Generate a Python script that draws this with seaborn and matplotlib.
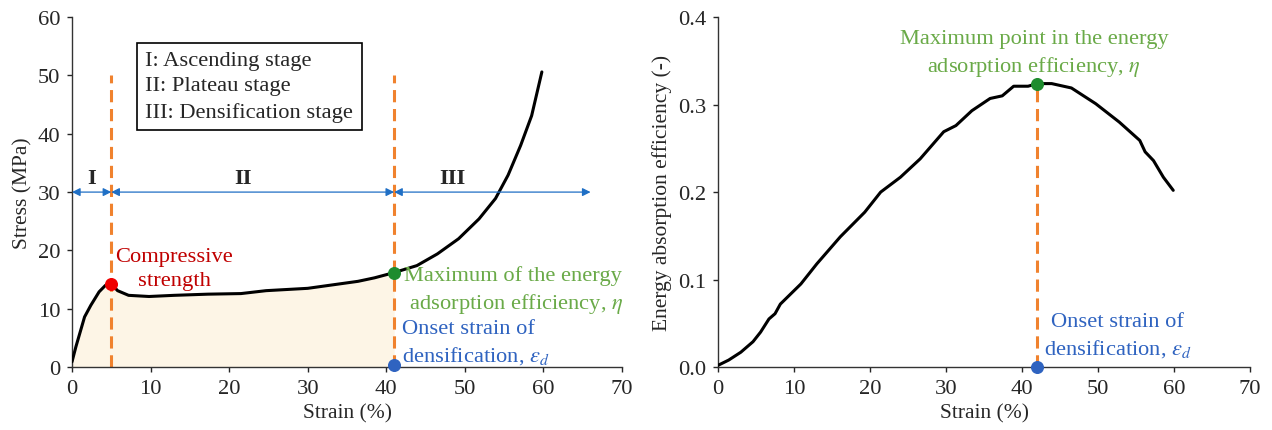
import numpy as np
import pandas as pd
import matplotlib
matplotlib.use("Agg")
import matplotlib.pyplot as plt
import seaborn as sns

# ---- data ----
stress_strain = [0, 0.5, 1.6, 2.4, 3.45, 4.25, 5.0, 5.8, 7.2, 9.8, 13.0, 17.3, 21.5, 24.7,
                 30.0, 33.2, 36.4, 38.5, 41.0, 43.9, 46.5, 49.2, 51.8, 53.9, 55.5, 57.1,
                 58.5, 59.8]
stress_vals = [0.9, 3.5, 8.6, 10.6, 12.9, 14.0, 14.3, 13.1, 12.3, 12.1, 12.3, 12.5, 12.6, 13.1,
               13.5, 14.1, 14.7, 15.3, 16.2, 17.4, 19.4, 22.0, 25.4, 28.9, 32.9, 38.0,
               43.1, 50.6]

eff_strain = [0, 1.4, 3.0, 4.6, 5.6, 6.7, 7.5, 8.2, 10.9, 13.0, 16.1, 19.3, 21.4, 24.0, 26.6,
              29.7, 31.3, 33.4, 35.8, 37.4, 38.9, 40.8, 42.0, 43.9, 46.5, 49.7, 52.8, 55.5,
              56.2, 57.3, 58.6, 59.9]
eff_vals = [0.002, 0.008, 0.017, 0.029, 0.040, 0.055, 0.061, 0.072, 0.095, 0.118, 0.149,
            0.177, 0.200, 0.217, 0.238, 0.269, 0.276, 0.293, 0.307, 0.310, 0.321, 0.321,
            0.324, 0.324, 0.319, 0.301, 0.280, 0.259, 0.246, 0.236, 0.217, 0.202]

compressive_pt = (5.0, 14.3)
max_eff_pt_left = (41.0, 16.2)
onset_left = 41.0
onset_right = 42.0
max_eff_right = 0.324
stage_bounds = [0, 5, 41, 66]
stage_labels = ["I", "II", "III"]
stage_label_x = [2.5, 21.8, 48.4]
legend_lines = ["I: Ascending stage", "II: Plateau stage", "III: Densification stage"]

sns.set_style("ticks")
plt.rcParams['font.family'] = ['Liberation Serif', 'DejaVu Serif']
plt.rcParams['mathtext.fontset'] = 'stix'
plt.rcParams['axes.linewidth'] = 1.0

ORANGE = "#F0822E"
BLUE = "#2F63C0"
GREEN_TXT = "#6AAA48"
GREEN_M = "#1E8C2E"
RED_TXT = "#C00000"
RED_M = "#F00000"
FS = 16.2
LFS = 15.5
LS = 1.36
DASH = (0, (4, 2.2))

fig = plt.figure(figsize=(12.72, 4.31), dpi=100)
ax1 = fig.add_axes([0.0566, 0.146, 0.4324, 0.812])
ax2 = fig.add_axes([0.5645, 0.146, 0.4182, 0.812])

df1 = pd.DataFrame({"strain": stress_strain, "stress": stress_vals})
df2 = pd.DataFrame({"strain": eff_strain, "eff": eff_vals})

# ---- left panel ----
sub = df1[df1.strain <= onset_left]
ax1.fill_between(sub.strain, 0, sub.stress, color="#FDF5E6", zorder=1, lw=0)
sns.lineplot(data=df1, x="strain", y="stress", ax=ax1, color="black", lw=2.2, zorder=3)
for xv in [stage_bounds[1], onset_left]:
    ax1.plot([xv, xv], [0, 50], ls=DASH, color=ORANGE, lw=2.2, zorder=2)
ax1.scatter(*compressive_pt, s=70, color=RED_M, zorder=5)
ax1.scatter(*max_eff_pt_left, s=70, color=GREEN_M, zorder=5)
ax1.scatter(onset_left, 0.3, s=70, color=BLUE, zorder=5, clip_on=False)

for i in range(3):
    ax1.annotate("", xy=(stage_bounds[i + 1], 30), xytext=(stage_bounds[i], 30),
                 arrowprops=dict(arrowstyle="<|-|>", color="#1F6FC5", lw=0.9,
                                 shrinkA=0, shrinkB=0, mutation_scale=12), zorder=4)
    ax1.text(stage_label_x[i], 32.4, stage_labels[i], ha="center", va="center",
             fontsize=FS, fontweight="bold")

ax1.text(9.35, 48.1, "\n".join(legend_lines), fontsize=FS, va="center", ha="left",
         linespacing=1.42,
         bbox=dict(boxstyle="square,pad=0.38", fc="white", ec="black", lw=1.2))

ax1.text(13.0, 16.9, "Compressive\nstrength", color=RED_TXT, fontsize=FS, ha="center",
         va="center", linespacing=LS)
ax1.text(42.3, 13.15, "Maximum of the energy\n adsorption efficiency, $\\eta$", color=GREEN_TXT,
         fontsize=FS, ha="left", va="center", linespacing=LS)
ax1.text(42.0, 4.2, "Onset strain of\ndensification, $\\varepsilon_d$", color=BLUE,
         fontsize=FS, ha="left", va="center", linespacing=LS)

ax1.set_xlim(0, 70)
ax1.set_ylim(0, 60)
ax1.set_xticks(range(0, 71, 10))
ax1.set_yticks(range(0, 61, 10))
ax1.set_xlabel("Strain (%)", fontsize=LFS, labelpad=4)
ax1.set_ylabel("Stress (MPa)", fontsize=LFS, labelpad=4)

# ---- right panel ----
sns.lineplot(data=df2, x="strain", y="eff", ax=ax2, color="black", lw=2.2, zorder=3)
ax2.plot([onset_right, onset_right], [0, max_eff_right], ls=DASH, color=ORANGE,
         lw=2.2, zorder=2)
ax2.scatter(onset_right, max_eff_right, s=70, color=GREEN_M, zorder=5)
ax2.scatter(onset_right, 0.0, s=70, color=BLUE, zorder=5, clip_on=False)
ax2.text(41.6, 0.358, "Maximum point in the energy\nadsorption efficiency, $\\eta$",
         color=GREEN_TXT, fontsize=FS, ha="center", va="center", linespacing=LS)
ax2.text(52.6, 0.036, "Onset strain of\ndensification, $\\varepsilon_d$", color=BLUE,
         fontsize=FS, ha="center", va="center", linespacing=LS)
ax2.set_xlim(0, 70)
ax2.set_ylim(0, 0.4)
ax2.set_xticks(range(0, 71, 10))
ax2.set_yticks([0.0, 0.1, 0.2, 0.3, 0.4])
ax2.set_yticklabels(["0.0", "0.1", "0.2", "0.3", "0.4"])
ax2.set_xlabel("Strain (%)", fontsize=LFS, labelpad=4)
ax2.set_ylabel("Energy absorption efficiency (-)", fontsize=LFS, labelpad=4)

for ax in (ax1, ax2):
    sns.despine(ax=ax)
    ax.tick_params(labelsize=FS, length=3.5, width=1.0, direction="out", pad=5)
    for s in ax.spines.values():
        s.set_color("#333333")

fig.savefig("out.png", dpi=100)
